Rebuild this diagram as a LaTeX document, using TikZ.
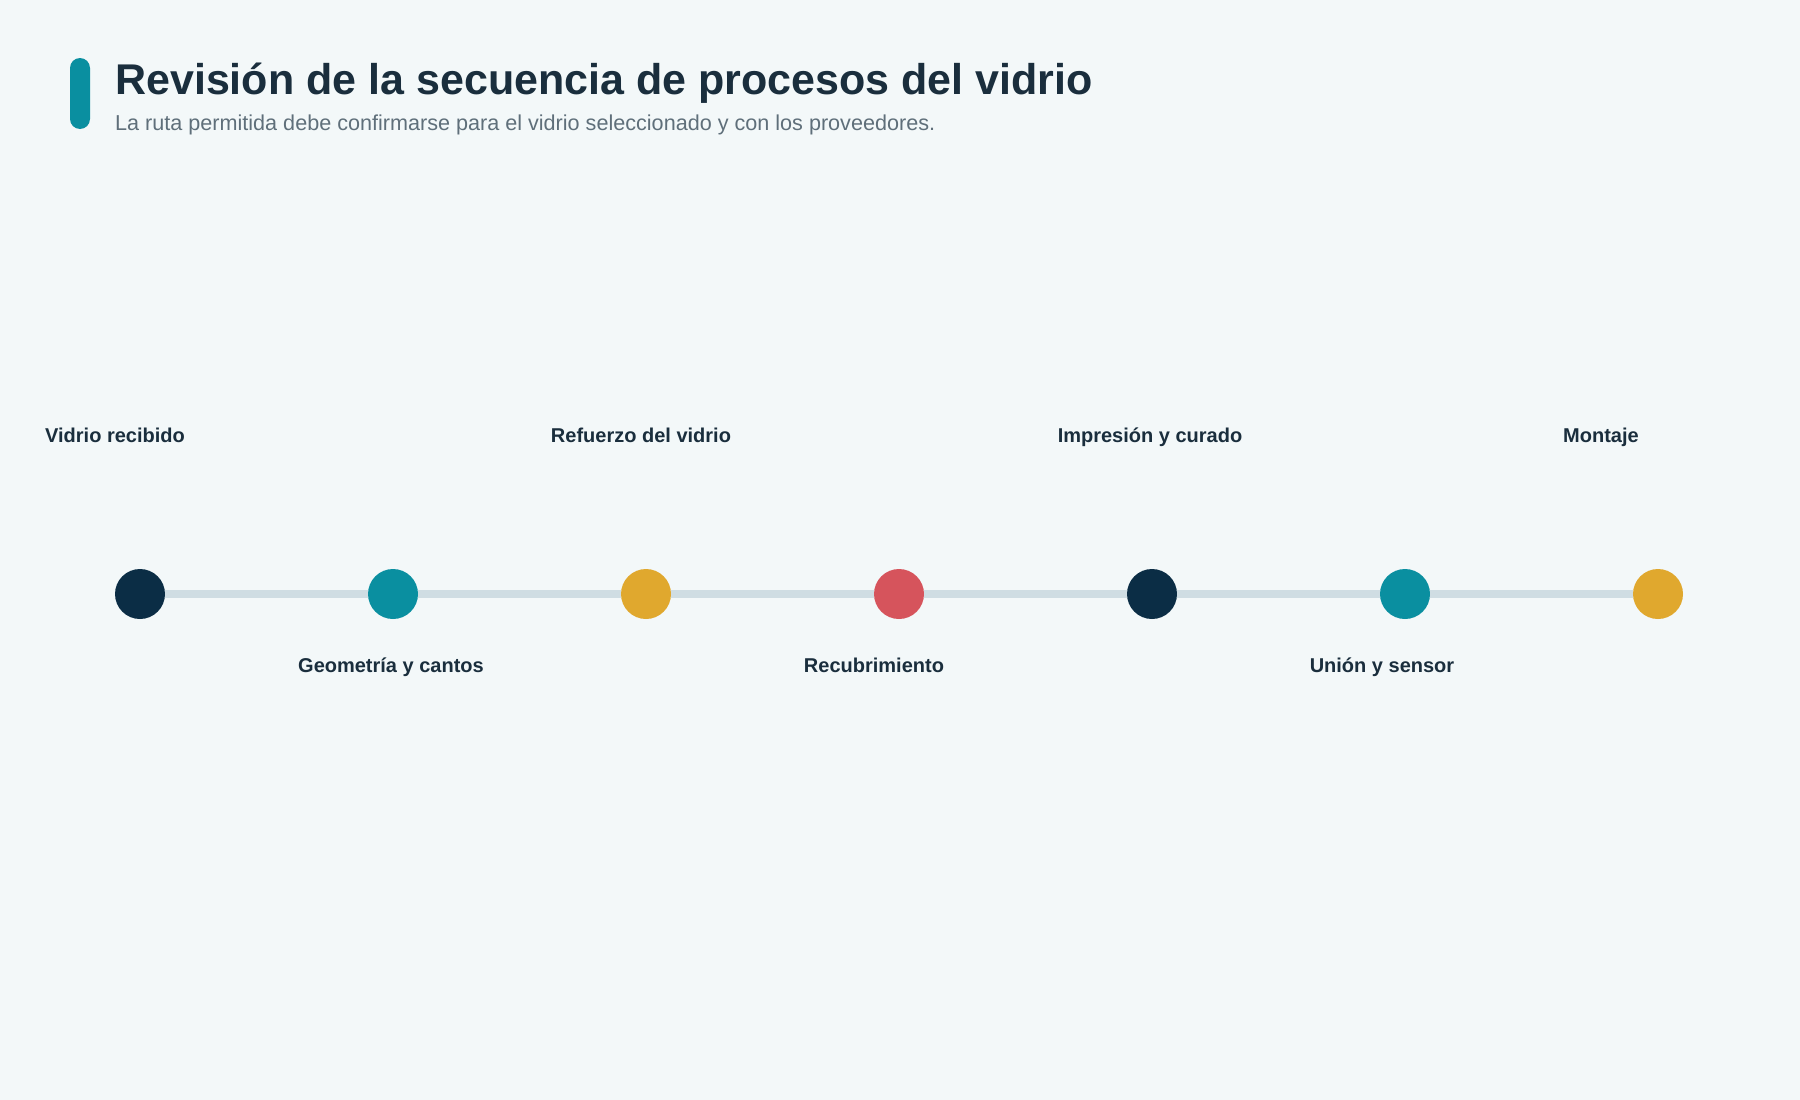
\documentclass[tikz,border=0pt]{standalone}
\usepackage{fontspec}
\setmainfont{Liberation Sans}
\definecolor{bgc}{HTML}{F3F8F9}
\definecolor{navy}{HTML}{0B2D45}
\definecolor{teal}{HTML}{0A8FA0}
\definecolor{gold}{HTML}{E0A82E}
\definecolor{redc}{HTML}{D6545C}
\definecolor{linec}{HTML}{CFDDE3}
\definecolor{txt}{HTML}{1A2E3D}
\definecolor{subt}{HTML}{5F6F7A}
\begin{document}
\begin{tikzpicture}[x=1pt,y=-1pt,
  dot/.style={circle,minimum size=50pt,inner sep=0pt},
  lab/.style={font=\fontsize{20}{24}\selectfont\bfseries,text=txt,anchor=base,inner sep=0pt},
  track/.style={draw=linec,line width=8pt}]
\path[fill=bgc] (0,0) rectangle (1800,1100);
\useasboundingbox (0,0) rectangle (1800,1100);
\path[fill=teal,rounded corners=10pt] (70,58) rectangle (90,129);
\node[anchor=base west,inner sep=0pt,font=\fontsize{43}{50}\selectfont\bfseries,text=txt] (title) at (115,94) {Revisión de la secuencia de procesos del vidrio};
\node[anchor=base west,inner sep=0pt,font=\fontsize{21.6}{26}\selectfont,text=subt] (sub) at (115,130) {La ruta permitida debe confirmarse para el vidrio seleccionado y con los proveedores.};
\node[dot,fill=navy] (c1) at (140,594) {};
\node[dot,fill=teal] (c2) at (393,594) {};
\node[dot,fill=gold] (c3) at (646,594) {};
\node[dot,fill=redc] (c4) at (899,594) {};
\node[dot,fill=navy] (c5) at (1152,594) {};
\node[dot,fill=teal] (c6) at (1405,594) {};
\node[dot,fill=gold] (c7) at (1658,594) {};
\draw[track] (c1) -- (c2);
\draw[track] (c2) -- (c3);
\draw[track] (c3) -- (c4);
\draw[track] (c4) -- (c5);
\draw[track] (c5) -- (c6);
\draw[track] (c6) -- (c7);
\node[lab] (l1) at (115,442) {Vidrio recibido};
\node[lab] (l2) at (391,672) {Geometría y cantos};
\node[lab] (l3) at (641,442) {Refuerzo del vidrio};
\node[lab] (l4) at (874,672) {Recubrimiento};
\node[lab] (l5) at (1150,442) {Impresión y curado};
\node[lab] (l6) at (1382,672) {Unión y sensor};
\node[lab] (l7) at (1601,442) {Montaje};
\end{tikzpicture}
\end{document}
